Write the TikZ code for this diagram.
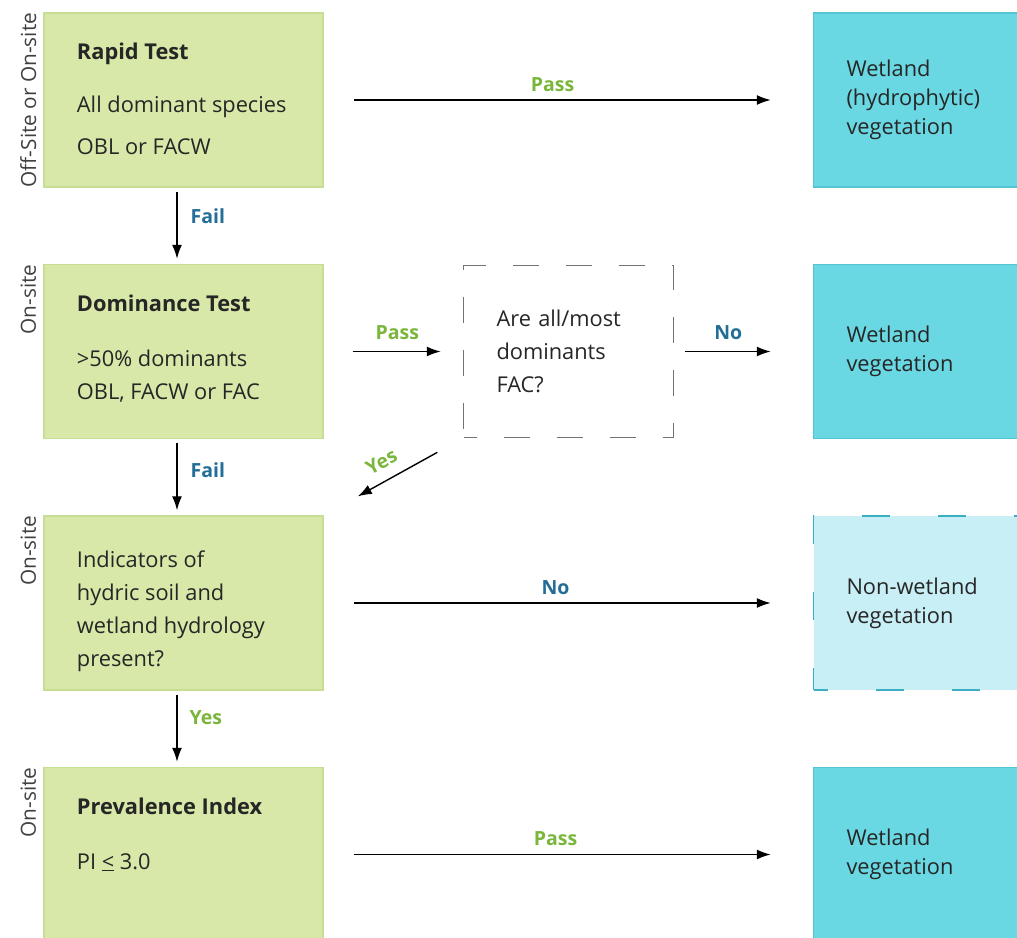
\documentclass[tikz,border=0pt]{standalone}
\usepackage{fontspec}
\setmainfont{Open Sans}
\usetikzlibrary{arrows.meta}
\usetikzlibrary{positioning}
\definecolor{boxgreen}{HTML}{D7E8A8}
\definecolor{linegreen}{HTML}{C6DD93}
\definecolor{boxblue}{HTML}{6AD8E3}
\definecolor{lineblue}{HTML}{52C4D4}
\definecolor{paleblue}{HTML}{C8EEF6}
\definecolor{dashblue}{HTML}{3CAEC4}
\definecolor{passgreen}{HTML}{7AB63C}
\definecolor{failblue}{HTML}{236E96}

\begin{document}
\begin{tikzpicture}[%
        x=1pt, y=-1pt,
        every node/.style={inner sep=0pt, text=black!85},
        gbox/.style={rectangle, fill=boxgreen, draw=linegreen, line width=1.5pt, minimum width=279pt, minimum height=174pt},
        gtxt/.style={align=left, font=\fontsize{21.8}{33}\selectfont},
        bbox/.style={rectangle, fill=boxblue, draw=lineblue, line width=1.5pt, minimum height=174pt, inner xsep=33pt, text width=144pt, align=left, font=\fontsize{21.8}{29}\selectfont},
        qbox/.style={rectangle, fill=white, draw=black!55, line width=1.5pt, dash pattern=on 26pt off 27pt, dash phase=13pt, minimum height=172pt, inner xsep=33pt, text width=144pt, align=left, font=\fontsize{21.8}{33}\selectfont},
        side/.style={rotate=90, anchor=east, text=black!75, font=\fontsize{20.8}{24}\selectfont},
        pass/.style={text=passgreen, font=\bfseries\fontsize{19.5}{22}\selectfont},
        fail/.style={text=failblue, font=\bfseries\fontsize{19.5}{22}\selectfont},
        node distance=76pt, line width=1.4pt, >={Latex[length=14pt,width=10pt]}
      ]
      \useasboundingbox (0,0) rectangle (1017,937);
      % left column
      \node [gbox] (rapid) at (183.5,100) {};
      \node [gbox, below=of rapid] (dom) {};
      \node [gbox, below=of dom] (ind) {};
      \node [gbox, below=of ind] (prev) {};
      \node [gtxt, font=\fontsize{21.8}{42}\selectfont, below right=30pt and 33pt of rapid.north west] (rapidtxt) {\textbf{Rapid Test}\\[11pt] All dominant species\\ OBL or FACW};
      \node [gtxt, below right=30pt and 33pt of dom.north west] (domtxt) {\textbf{Dominance Test}\\[22pt] >50\% dominants\\ OBL, FACW or FAC};
      \node [gtxt, below right=35pt and 33pt of ind.north west] (indtxt) {Indicators of\\ hydric soil and\\ wetland hydrology\\ present?};
      \node [gtxt, below right=30pt and 33pt of prev.north west] (prevtxt) {\textbf{Prevalence Index}\\[22pt] PI \underline{<} 3.0};
      \node [side] (s1) at ([xshift=-15pt]rapid.north west) {Off-Site or On-site};
      \node [side] (s2) at ([xshift=-15pt]dom.north west) {On-site};
      \node [side] (s3) at ([xshift=-15pt]ind.north west) {On-site};
      \node [side] (s4) at ([xshift=-15pt]prev.north west) {On-site};
      % right column
      \node [qbox, right=139pt of dom] (fac) {Are all/most\\ dominants\\ FAC?};
      \node [bbox, right=489pt of rapid] (wet1) {Wetland\\ (hydrophytic)\\ vegetation};
      \node [bbox, right=489pt of dom] (wet2) {Wetland\\ vegetation};
      \node [bbox, fill=paleblue, draw=dashblue, dash pattern=on 28pt off 48pt, dash phase=14pt, right=489pt of ind] (nonwet) {Non-wetland\\ vegetation};
      \node [bbox, right=489pt of prev] (wet4) {Wetland\\ vegetation};
      % connectors
      \path [draw] (rapid) edge[->, shorten <=30pt, shorten >=42pt] node[pass, above=8pt, pos=0.468] {Pass} (wet1)
      (dom) edge[->, shorten <=29pt, shorten >=22pt] node[pass, above=11pt, pos=0.53] {Pass} (fac)
      (fac) edge[->, shorten <=11pt, shorten >=42pt] node[fail, above=11pt, pos=0.39] {No} (wet2)
      (ind) edge[->, shorten <=30pt, shorten >=42pt] node[fail, above=8pt, pos=0.474] {No} (nonwet)
      (prev) edge[->, shorten <=30pt, shorten >=42pt] node[pass, above=8pt, pos=0.474] {Pass} (wet4)
      (fac.south west) edge[->, shorten <=29pt, shorten >=39pt] node[pass, sloped, above=11pt, pos=0.52] {Yes} (ind.north east)
      ([xshift=-6.5pt]rapid.south) edge[->, shorten <=4pt, shorten >=5pt] node[fail, right=13pt, pos=0.38] {Fail} ([xshift=-6.5pt]dom.north)
      ([xshift=-6.5pt]dom.south) edge[->, shorten <=4pt, shorten >=5pt] node[fail, right=13pt, pos=0.41] {Fail} ([xshift=-6.5pt]ind.north)
      ([xshift=-6.5pt]ind.south) edge[->, shorten <=4pt, shorten >=5pt] node[pass, right=12pt, pos=0.35] {Yes} ([xshift=-6.5pt]prev.north);
    \end{tikzpicture}
\end{document}
